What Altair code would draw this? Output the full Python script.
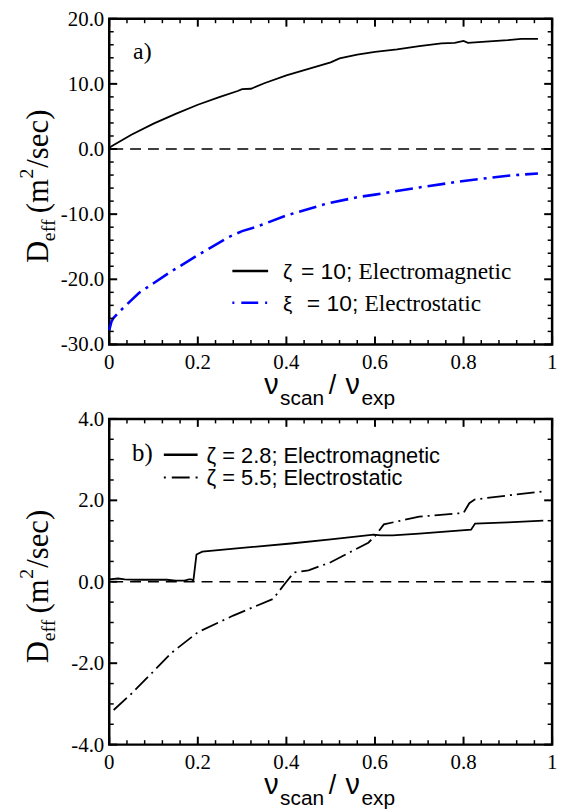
import altair as alt
import pandas as pd

# ---------------- data ----------------
# Panel a
a_em_x = [0.0, 0.01, 0.05, 0.1, 0.15, 0.2, 0.25, 0.29, 0.3, 0.32, 0.35, 0.4, 0.45, 0.5,
          0.52, 0.56, 0.6, 0.65, 0.7, 0.75, 0.78, 0.8, 0.81, 0.85, 0.9, 0.93, 0.968]
a_em_y = [0.2, 0.6, 2.2, 3.9, 5.4, 6.8, 8.0, 8.9, 9.2, 9.25, 10.1, 11.3, 12.3, 13.3,
          13.9, 14.5, 14.9, 15.3, 15.8, 16.2, 16.3, 16.6, 16.3, 16.5, 16.7, 16.9, 16.9]
a_es_x = [0.0, 0.005, 0.01, 0.03, 0.067, 0.1, 0.14, 0.2, 0.27, 0.3, 0.33, 0.4, 0.49,
          0.56, 0.6, 0.7, 0.8, 0.9, 0.968]
a_es_y = [-27.8, -26.5, -25.9, -24.5, -22.1, -20.6, -18.8, -16.3, -13.5, -12.6, -12.0,
          -10.2, -8.4, -7.4, -7.0, -5.9, -4.9, -4.1, -3.75]

# Panel b
b_em_x = [0.0, 0.02, 0.035, 0.06, 0.1, 0.13, 0.15, 0.17, 0.18, 0.185, 0.19, 0.197, 0.21,
          0.3, 0.41, 0.5, 0.597, 0.613, 0.64, 0.7, 0.817, 0.826, 0.9, 0.98]
b_em_y = [0.06, 0.08, 0.06, 0.05, 0.05, 0.05, 0.03, 0.03, 0.06, 0.06, 0.03, 0.67, 0.74,
          0.83, 0.94, 1.04, 1.16, 1.14, 1.14, 1.18, 1.28, 1.43, 1.46, 1.50]
b_es_x = [0.01, 0.05, 0.1, 0.14, 0.2, 0.28, 0.37, 0.4, 0.417, 0.45, 0.5, 0.585, 0.6,
          0.62, 0.7, 0.8, 0.813, 0.825, 0.9, 0.98]
b_es_y = [-3.15, -2.75, -2.2, -1.75, -1.24, -0.83, -0.42, 0.0, 0.23, 0.28, 0.48, 0.96,
          1.12, 1.41, 1.6, 1.69, 1.93, 2.02, 2.12, 2.22]

# tick values and tick labels
x_major = [0.0, 0.2, 0.4, 0.6, 0.8, 1.0]
x_labels = ["0", "0.2", "0.4", "0.6", "0.8", "1"]
x_minor = [0.04, 0.08, 0.12, 0.16, 0.24, 0.28, 0.32, 0.36, 0.44, 0.48, 0.52, 0.56,
           0.64, 0.68, 0.72, 0.76, 0.84, 0.88, 0.92, 0.96]
a_y_major = [-30, -20, -10, 0, 10, 20]
a_y_labels = ["-30.0", "-20.0", "-10.0", "0.0", "10.0", "20.0"]
a_y_minor = [-28, -26, -24, -22, -18, -16, -14, -12, -8, -6, -4, -2,
             2, 4, 6, 8, 12, 14, 16, 18]
b_y_major = [-4, -2, 0, 2, 4]
b_y_labels = ["-4.0", "-2.0", "0.0", "2.0", "4.0"]
b_y_minor = [-3.5, -3, -2.5, -1.5, -1, -0.5, 0.5, 1, 1.5, 2.5, 3, 3.5]

# legend / annotation texts
a_label = "a)"
b_label = "b)"
a_leg_greek = ["ζ", "ξ"]
a_leg_eq = ["= 10;", "= 10;"]
a_leg_word = ["Electromagnetic", "Electrostatic"]
b_leg = ["ζ = 2.8; Electromagnetic", "ζ = 5.5; Electrostatic"]

# ---------------- layout constants ----------------
W, H = 446, 328
SERIF = "Liberation Serif"
SANS = "Liberation Sans"


def one():
    return pd.DataFrame({"k": [0]})


def txt(s, x, y, size, font, angle=None, align="left", baseline="alphabetic"):
    kw = dict(text=s, fontSize=size, font=font, align=align, baseline=baseline, color="black")
    if angle is not None:
        kw["angle"] = angle
    return alt.Chart(one()).mark_text(**kw).encode(x=alt.value(x), y=alt.value(y))


def hrule(x1, x2, y, **kw):
    return alt.Chart(one()).mark_rule(**kw).encode(
        x=alt.value(x1), x2=alt.value(x2), y=alt.value(y))


def X(sc):
    return alt.X("x:Q", scale=sc, axis=None)


def Y(sc):
    return alt.Y("y:Q", scale=sc, axis=None)


def tick_layers(xsc, ysc, ymaj, ymin, ylabels):
    layers = []
    for vals, L, sw in [(x_major, 8, 2), (x_minor, 4.5, 1.5)]:
        base = alt.Chart(pd.DataFrame({"x": vals})).mark_rule(color="black", strokeWidth=sw)
        layers.append(base.encode(x=X(xsc), y=alt.value(H), y2=alt.value(H - L)))
        layers.append(base.encode(x=X(xsc), y=alt.value(0), y2=alt.value(L)))
    for vals, L, sw in [(ymaj, 8, 2), (ymin, 4.5, 1.5)]:
        base = alt.Chart(pd.DataFrame({"y": vals})).mark_rule(color="black", strokeWidth=sw)
        layers.append(base.encode(y=Y(ysc), x=alt.value(0), x2=alt.value(L)))
        layers.append(base.encode(y=Y(ysc), x=alt.value(W), x2=alt.value(W - L)))
    # tick labels
    layers.append(
        alt.Chart(pd.DataFrame({"x": x_major, "t": x_labels}))
        .mark_text(font=SERIF, fontSize=21, color="black", align="center", baseline="top")
        .encode(x=X(xsc), y=alt.value(H + 8), text="t:N"))
    layers.append(
        alt.Chart(pd.DataFrame({"y": ymaj, "t": ylabels}))
        .mark_text(font=SERIF, fontSize=21, color="black", align="right", baseline="middle", dy=1)
        .encode(y=Y(ysc), x=alt.value(-5), text="t:N"))
    return layers


def titles():
    return [
        # y title: D_eff (m^2/sec), rotated
        txt("D", -62, 246, 31, SERIF, angle=270),
        txt("eff", -55, 224, 20, SERIF, angle=270),
        txt("(m", -62, 196, 31, SERIF, angle=270),
        txt("2", -77, 161, 20, SERIF, angle=270),
        txt("/sec)", -62, 150, 31, SERIF, angle=270),
        # x title: nu_scan / nu_exp
        txt("ν", 156, 378, 29, SANS),
        txt("scan", 172, 389, 21, SANS),
        txt("/", 221, 378, 27, SANS),
        txt("ν", 238, 378, 29, SANS),
        txt("exp", 254, 389, 21, SANS),
    ]


xscale = alt.Scale(domain=[0, 1], nice=False, zero=False)

# ---------------- panel a ----------------
ysc_a = alt.Scale(domain=[-30, 20], nice=False, zero=False)
df_a_em = pd.DataFrame({"x": a_em_x, "y": a_em_y})
df_a_es = pd.DataFrame({"x": a_es_x, "y": a_es_y})

frame = alt.Chart(one()).mark_rect(opacity=0).encode(
    x=alt.value(-108), x2=alt.value(570 - 108), y=alt.value(-14), y2=alt.value(810 - 14))

a_em = alt.Chart(df_a_em).mark_line(color="black", strokeWidth=1.8).encode(
    x=X(xscale), y=Y(ysc_a))
a_es = alt.Chart(df_a_es).mark_line(color="#0000ff", strokeWidth=2.6,
                                    strokeDash=[18, 6, 3, 6]).encode(
    x=X(xscale), y=Y(ysc_a))
a_zero = alt.Chart(pd.DataFrame({"y": [0]})).mark_rule(
    color="black", strokeWidth=1.5, strokeDash=[11, 7]).encode(y=Y(ysc_a))

a_legend = [
    txt(a_label, 24, 41, 24, SERIF),
    hrule(124, 160, 254, color="black", strokeWidth=2.5),
    hrule(124, 160, 286, color="#0000ff", strokeWidth=2.6, strokeDash=[2, 7, 17, 7]),
    txt(a_leg_greek[0], 175, 262, 21, SANS),
    txt(a_leg_eq[0], 193, 262, 23, SANS),
    txt(a_leg_word[0], 251, 262, 23.5, SERIF),
    txt(a_leg_greek[1], 175, 294, 21, SANS),
    txt(a_leg_eq[1], 199, 294, 23, SANS),
    txt(a_leg_word[1], 257, 294, 23.5, SERIF),
]

panel_a = alt.layer(
    frame, a_em, a_es, a_zero,
    *tick_layers(xscale, ysc_a, a_y_major, a_y_minor, a_y_labels),
    *a_legend, *titles()
).properties(width=W, height=H)

# ---------------- panel b ----------------
ysc_b = alt.Scale(domain=[-4, 4], nice=False, zero=False)
df_b_em = pd.DataFrame({"x": b_em_x, "y": b_em_y})
df_b_es = pd.DataFrame({"x": b_es_x, "y": b_es_y})

b_em = alt.Chart(df_b_em).mark_line(color="black", strokeWidth=1.8).encode(
    x=X(xscale), y=Y(ysc_b))
b_es = alt.Chart(df_b_es).mark_line(color="black", strokeWidth=1.8,
                                    strokeDash=[18, 5, 2, 5]).encode(
    x=X(xscale), y=Y(ysc_b))
b_zero = alt.Chart(pd.DataFrame({"y": [0]})).mark_rule(
    color="black", strokeWidth=1.5, strokeDash=[11, 7]).encode(y=Y(ysc_b))

b_legend = [
    txt(b_label, 23, 42, 25, SERIF),
    hrule(55, 89, 36, color="black", strokeWidth=2.5),
    hrule(55, 89, 59, color="black", strokeWidth=2, strokeDash=[2, 6, 18, 6]),
    txt(b_leg[0], 98, 44, 22, SANS),
    txt(b_leg[1], 98, 67, 22, SANS),
]

panel_b = alt.layer(
    b_em, b_es, b_zero,
    *tick_layers(xscale, ysc_b, b_y_major, b_y_minor, b_y_labels),
    *b_legend, *titles()
).properties(width=W, height=H)

chart = alt.vconcat(panel_a, panel_b, spacing=75, bounds="flush").properties(
    padding=0, background="white"
).configure_view(
    stroke="black", strokeWidth=2.5
)

chart.save("out.html", embed_options={"renderer": "svg", "actions": False})
